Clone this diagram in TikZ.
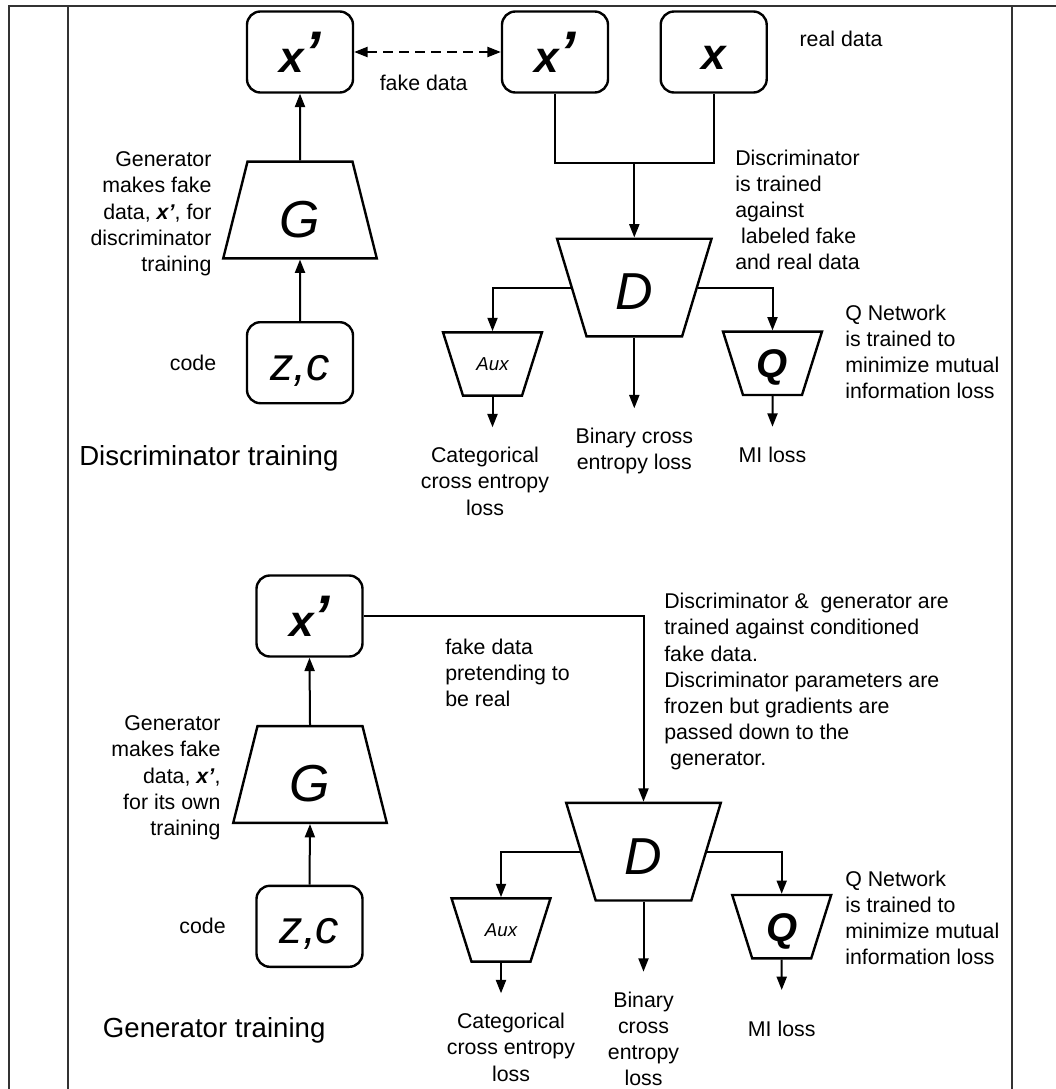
\documentclass[tikz,border=0pt]{standalone}
\usepackage{fontspec}
\setmainfont{Liberation Sans}
\usetikzlibrary{arrows.meta,positioning,shapes.geometric}

\newcommand{\fakex}{\textbf{\textit{x’}}}
\newcommand{\bigfakex}{x{\fontsize{44}{44}\selectfont ’}}

\begin{document}
\begin{tikzpicture}[
  % one unit is one pixel of the scanned figure, y grows downwards
  x=0.75pt, y=-0.75pt,
  font=\fontsize{16}{19.6}\selectfont,
  box/.style={draw, rounded corners=10pt, line width=1.8pt, minimum width=79.5pt,
    minimum height=60.75pt, inner sep=0pt, font=\fontsize{33}{33}\selectfont\bfseries\itshape},
  % the text box is the narrow edge and the full height, so nothing is stretched
  net/.style={draw, trapezium, line width=1.8pt, inner sep=0pt, align=center},
  gen/.style={net, trapezium left angle=75.9, trapezium right angle=75.9,
    text width=78.75pt, text height=56.6pt, text depth=15.9pt,
    font=\fontsize{39}{39}\selectfont\itshape},
  disc/.style={net, trapezium left angle=106.8, trapezium right angle=106.8,
    text width=71.7pt, text height=53.35pt, text depth=19.85pt,
    font=\fontsize{39}{39}\selectfont\itshape},
  head/.style={net, trapezium left angle=107.5, trapezium right angle=107.5,
    text width=44.25pt},
  auxhead/.style={head, text height=28.75pt, text depth=18.75pt,
    font=\fontsize{14}{14}\selectfont\itshape},
  qhead/.style={head, text height=34.5pt, text depth=13pt,
    font=\fontsize{30}{30}\selectfont\bfseries\itshape},
  note/.style={inner sep=0pt, align=left},
  % the arrow stops short of the loss text by the outer sep
  loss/.style={inner sep=0pt, outer ysep=15pt, align=center, anchor=north},
  flow/.style={-{Triangle[length=10pt,width=7.5pt]}, line width=1.5pt},
  pair/.style={{Triangle[length=10pt,width=7.5pt]}-{Triangle[length=10pt,width=7.5pt]},
    line width=1.5pt, dash pattern=on 7.5pt off 4.5pt},
  frame/.style={line width=1.5pt, draw=black!80}
]
\useasboundingbox (0,0) rectangle (1056,1089);

% table rules
\draw[frame] (9.3,1089) -- (9.3,5.7) -- (1056,5.7);
\draw[frame] (68.3,5.7) -- (68.3,1089);
\draw[frame] (1011.7,5.7) -- (1011.7,1089);

% ---- discriminator training ----
\node[box] (xp1) at (300,52) {\bigfakex};
\node[box] (xp2) at (555,52) {\bigfakex};
\node[box, text height=26pt] (xr1) at (713.7,52) {x};
\node[gen] (G1) at (300,210) {G};
\node[box, font=\fontsize{35}{35}\selectfont\itshape, text height=31pt] (zc1) at (300,362.7) {z,c};
\node[disc] (D1) at (634.3,287.5) {D};
\node[auxhead] (aux1) at (492.5,364) {Aux};
\node[qhead] (Q1) at (772.5,363.3) {Q};

\node[note, anchor=north east, align=right] (gen1) at (211.7,151.6)
  {Generator\\makes fake\\data, \fakex, for\\discriminator\\training};
\node[note, left=22pt of zc1] (code1) {code};
\node[note, anchor=west, font=\fontsize{20.7}{24}\selectfont] (title1) at (79,458.3)
  {Discriminator training};
\node[note] (fake1) at (423.7,82.7) {fake data};
\node[note, anchor=west] (real1) at (799.3,39.3) {real data};
\node[note, anchor=north west] (dnote1) at (735,149.6)
  {Discriminator\\is trained\\against\\\hspace*{.28em}labeled fake\\and real data};
\node[note, anchor=north west] (qnote1) at (845,304.6)
  {Q Network\\is trained to\\minimize mutual\\information loss};
\node[loss] (bce1) at (634.3,408.3) {Binary cross\\entropy loss};
\node[loss] (mi1) at (772.5,426.7) {MI loss};
\node[loss] (cat1) at (485,427.3) {Categorical\\cross entropy\\loss};

\path (D1.north) ++(0,-74) coordinate (join1);
\draw[pair] (xp1.east) -- (xp2.west);
\draw[flow] (G1.north) -- (xp1.south);
\draw[flow] (zc1.north) -- (G1.south);
\draw[line width=1.5pt] (xp2.south) |- (join1) -| (xr1.south);
\draw[flow] (join1) -- (D1.north);
\draw[flow] (D1.left side) -| (aux1.north);
\draw[flow] (D1.right side) -| (Q1.north);
\draw[flow] (D1.south) -- (bce1.north);
\draw[flow] (aux1.south) -- (aux1.south |- cat1.north);
\draw[flow] (Q1.south) -- (mi1.north);

% ---- generator training ----
\node[box] (xp3) at (309.5,616) {\bigfakex};
\node[gen] (G2) at (310,774.5) {G};
\node[box, font=\fontsize{35}{35}\selectfont\itshape, text height=31pt] (zc2) at (309.5,926.3) {z,c};
\node[disc] (D2) at (643.5,851.7) {D};
\node[auxhead] (aux2) at (501,930) {Aux};
\node[qhead] (Q2) at (781.7,926.7) {Q};

\node[note, anchor=north east, align=right] (gen2) at (220.7,715.6)
  {Generator\\makes fake\\data, \fakex,\\for its own\\training};
\node[note, left=22pt of zc2] (code2) {code};
\node[note, anchor=west, font=\fontsize{20.7}{24}\selectfont] (title2) at (102.7,1030)
  {Generator training};
\node[note, anchor=north west] (fake2) at (445,638.3) {fake data\\pretending to\\be real};
\node[note, anchor=north west] (dnote2) at (664,593)
  {Discriminator \& \ generator are\\trained against conditioned\\fake data.\\Discriminator parameters are\\frozen but gradients are\\passed down to the\\\hspace*{.28em}generator.};
\node[note, anchor=north west] (qnote2) at (845,870.6)
  {Q Network\\is trained to\\minimize mutual\\information loss};
\node[loss] (bce2) at (643.5,971.7) {Binary\\cross\\entropy\\loss};
\node[loss, outer ysep=23pt] (mi2) at (781.7,990) {MI loss};
\node[loss] (cat2) at (511,993.3) {Categorical\\cross entropy\\loss};

\draw[flow] (xp3.east) -| (D2.north);
\draw[flow] (G2.north) -- (xp3.south);
\draw[flow] (zc2.north) -- (G2.south);
\draw[flow] (D2.left side) -| (aux2.north);
\draw[flow] (D2.right side) -| (Q2.north);
\draw[flow] (D2.south) -- (bce2.north);
\draw[flow] (aux2.south) -- (aux2.south |- cat2.north);
\draw[flow] (Q2.south) -- (mi2.north);
\end{tikzpicture}
\end{document}
